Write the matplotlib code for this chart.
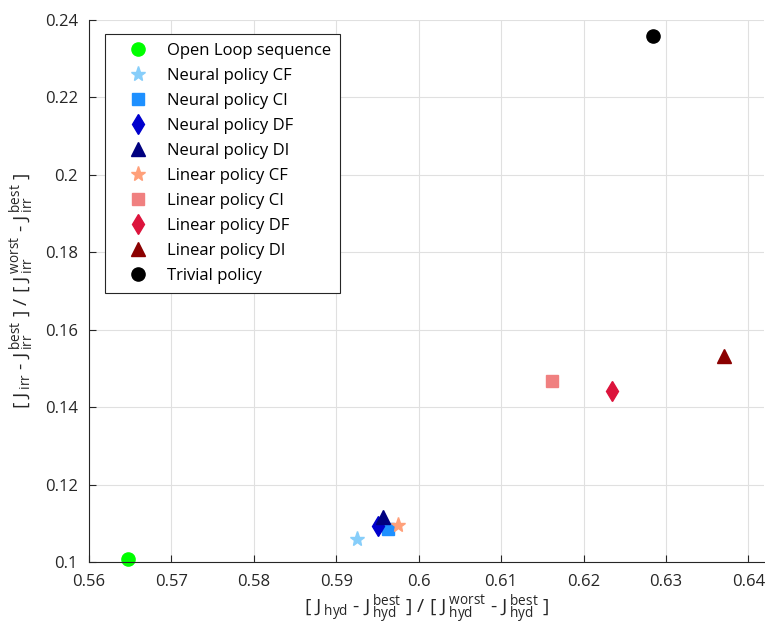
import matplotlib
matplotlib.use("Agg")
import matplotlib.pyplot as plt

# data
names = ["Open Loop sequence", "Neural policy CF", "Neural policy CI", "Neural policy DF",
         "Neural policy DI", "Linear policy CF", "Linear policy CI", "Linear policy DF",
         "Linear policy DI", "Trivial policy"]
j_hyd = [0.5647, 0.5925, 0.5963, 0.5951, 0.5957, 0.5975, 0.6162, 0.6235, 0.6371, 0.6284]
j_irr = [0.1008, 0.1059, 0.1085, 0.1093, 0.1116, 0.1096, 0.1468, 0.1442, 0.1532, 0.2359]
markers = ["o", "*", "s", "d", "^", "*", "s", "d", "^", "o"]
colors = ["#00ff00", "#87cefa", "#1e90ff", "#0000cd", "#000080",
          "#ffa07a", "#f08080", "#dc143c", "#8b0000", "#000000"]
sizes = [9.5, 11, 8, 10, 10, 11, 8, 10, 10, 9.5]

x_ticks = [0.56, 0.57, 0.58, 0.59, 0.60, 0.61, 0.62, 0.63, 0.64]
x_labels = ["0.56", "0.57", "0.58", "0.59", "0.6", "0.61", "0.62", "0.63", "0.64"]
y_ticks = [0.10, 0.12, 0.14, 0.16, 0.18, 0.20, 0.22, 0.24]
y_labels = ["0.1", "0.12", "0.14", "0.16", "0.18", "0.2", "0.22", "0.24"]

plt.rcParams["font.family"] = ["Open Sans", "DejaVu Sans"]
plt.rcParams["font.size"] = 12
plt.rcParams["mathtext.fontset"] = "custom"
plt.rcParams["mathtext.rm"] = "Open Sans"
plt.rcParams["mathtext.it"] = "Open Sans:italic"

W, H = 765, 628
fig = plt.figure(figsize=(W / 100, H / 100), dpi=100)
ax = fig.add_axes([89 / W, (H - 562) / H, (764 - 89) / W, (562 - 20) / H])

for i in range(len(names)):
    ax.plot(j_hyd[i], j_irr[i], linestyle="none", marker=markers[i], color=colors[i],
            markersize=sizes[i], label=names[i], clip_on=False)

ax.set_xlim(0.56, 0.6419)
ax.set_ylim(0.10, 0.24)
ax.set_xticks(x_ticks, x_labels)
ax.set_yticks(y_ticks, y_labels)
ax.grid(True, color="#e0e0e0", linewidth=0.8)
ax.set_axisbelow(True)
ax.tick_params(direction="in", length=5, width=0.8, color="#262626", labelcolor="#262626")
ax.tick_params(axis="x", pad=9)
ax.tick_params(axis="y", pad=8)
for side in ["top", "right"]:
    ax.spines[side].set_visible(False)
for side in ["left", "bottom"]:
    ax.spines[side].set_color("#262626")
    ax.spines[side].set_linewidth(0.8)

ax.set_xlabel(r"[ J$\,_{\mathrm{hyd}}$ - J$\,_{\mathrm{hyd}}^{\mathrm{best}}$ ] / "
              r"[ J$\,_{\mathrm{hyd}}^{\mathrm{worst}}$ - J$\,_{\mathrm{hyd}}^{\mathrm{best}}$ ]",
              color="#262626", fontsize=14, labelpad=1)
ax.set_ylabel(r"[ J$\,_{\mathrm{irr}}$ - J$\,_{\mathrm{irr}}^{\mathrm{best}}$ ] / "
              r"[ J$\,_{\mathrm{irr}}^{\mathrm{worst}}$ - J$\,_{\mathrm{irr}}^{\mathrm{best}}$ ]",
              color="#262626", fontsize=14, labelpad=6)

leg = ax.legend(loc="upper left", bbox_to_anchor=((105 - 89) / 675, 1 - (34 - 20) / 542),
                borderaxespad=0, numpoints=1, fancybox=False, framealpha=1,
                edgecolor="#262626", borderpad=0.55, labelspacing=0.54,
                handlelength=2.8, handletextpad=0.35)
leg.get_frame().set_linewidth(0.8)

fig.savefig("out.png", dpi=100)
